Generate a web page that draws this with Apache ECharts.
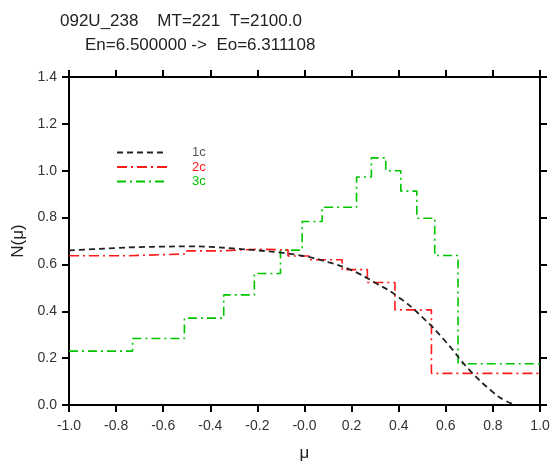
<!DOCTYPE html>
<html>
<head>
<meta charset="utf-8">
<script src="https://cdn.jsdelivr.net/npm/echarts@6/dist/echarts.min.js"></script>
<style>
  html, body { margin: 0; padding: 0; background: #fff; }
  #chart { width: 553px; height: 467px; }
</style>
</head>
<body>
<div id="chart"></div>
<script>
// 1c: smooth curve
const mu1c = [-1.0, -0.9, -0.8, -0.7, -0.6, -0.5, -0.4, -0.3, -0.2, -0.1, 0.0, 0.1, 0.2, 0.3, 0.4, 0.5, 0.6, 0.7, 0.8, 0.85, 0.9]
const n1c = [0.660, 0.665, 0.670, 0.674, 0.676, 0.677, 0.675, 0.668, 0.660, 0.650, 0.635, 0.610, 0.575, 0.522, 0.460, 0.375, 0.270, 0.150, 0.055, 0.020, 0.0]

// 2c: histogram, bin left edges and values (last edge closes the range)
const edges2c = [-1.0, -0.75, -0.5, -0.35, -0.2, -0.07, 0.02, 0.16, 0.267, 0.384, 0.539, 1.0]
const n2c = [0.637, 0.645, 0.658, 0.665, 0.662, 0.636, 0.620, 0.578, 0.523, 0.406, 0.135]

// 3c: histogram
const edges3c = [-1.0, -0.73, -0.51, -0.343, -0.213, -0.102, -0.01, 0.075, 0.221, 0.284, 0.345, 0.409, 0.477, 0.553, 0.652, 1.0]
const n3c = [0.230, 0.284, 0.371, 0.470, 0.561, 0.661, 0.783, 0.844, 0.973, 1.055, 1.000, 0.913, 0.797, 0.638, 0.176]

const titleLine1 = '092U_238    MT=221  T=2100.0'
const titleLine2 = 'En=6.500000 ->  Eo=6.311108'

const FONT = 'Liberation Sans, Arial, sans-serif'
const C1 = '#222'
const C2 = '#ff1a1a'
const C3 = '#00c400'

// build step points: each bin value at its left edge, plus a closing point
const stepData = (edges, vals) => {
  const pts = vals.map((v, i) => [edges[i], v])
  pts.push([edges[edges.length - 1], vals[vals.length - 1]])
  return pts
}

const chart = echarts.init(document.getElementById('chart'), null, { renderer: 'canvas' })

const axisCommon = {
  type: 'value',
  interval: 0.2,
  axisLine: { show: true, onZero: false, lineStyle: { color: '#000', width: 2 } },
  axisTick: { show: true, inside: false, length: 7, lineStyle: { color: '#000', width: 2 } },
  splitLine: { show: false }
}

const option = {
  animation: false,
  title: [
    { text: titleLine1, left: 55, top: 8, textStyle: { fontFamily: FONT, fontSize: 17, fontWeight: 'normal', color: '#222' } },
    { text: titleLine2, left: 80, top: 32, textStyle: { fontFamily: FONT, fontSize: 17, fontWeight: 'normal', color: '#222' } }
  ],
  legend: {
    orient: 'vertical',
    left: 111,
    top: 141,
    itemWidth: 50,
    itemHeight: 8,
    itemGap: 1.5,
    itemStyle: { opacity: 0 },
    data: [
      { name: '1c', textStyle: { color: '#555' } },
      { name: '2c', textStyle: { color: C2 } },
      { name: '3c', textStyle: { color: C3 } }
    ],
    textStyle: { fontFamily: FONT, fontSize: 13, lineHeight: 13, padding: [0, 0, 0, 20] }
  },
  grid: { left: 69, right: 13, top: 77, bottom: 58 },
  xAxis: [
    {
      ...axisCommon,
      min: -1,
      max: 1,
      position: 'bottom',
      name: 'μ',
      nameLocation: 'middle',
      nameGap: 40,
      nameTextStyle: { fontFamily: FONT, fontSize: 17, color: '#222' },
      axisLabel: {
        margin: 14,
        fontFamily: FONT,
        fontSize: 14,
        color: '#333',
        formatter: v => (Math.abs(v) < 1e-9 ? '-0.0' : v.toFixed(1))
      }
    },
    {
      ...axisCommon,
      min: -1,
      max: 1,
      position: 'top',
      axisLabel: { show: false }
    }
  ],
  yAxis: [
    {
      ...axisCommon,
      min: 0,
      max: 1.4,
      position: 'left',
      name: 'N(μ)',
      nameLocation: 'middle',
      nameGap: 41,
      nameTextStyle: { fontFamily: FONT, fontSize: 17, color: '#222' },
      axisLabel: {
        margin: 12,
        fontFamily: FONT,
        fontSize: 14,
        color: '#333',
        formatter: v => v.toFixed(1)
      }
    },
    {
      ...axisCommon,
      min: 0,
      max: 1.4,
      position: 'right',
      axisLabel: { show: false }
    }
  ],
  series: [
    {
      name: '1c',
      type: 'line',
      smooth: true,
      symbol: 'none',
      data: mu1c.map((m, i) => [m, n1c[i]]),
      itemStyle: { color: C1 },
      lineStyle: { color: C1, width: 1.8, type: [6, 4] },
      z: 3
    },
    {
      name: '2c',
      type: 'line',
      step: 'end',
      symbol: 'none',
      data: stepData(edges2c, n2c),
      itemStyle: { color: C2 },
      lineStyle: { color: C2, width: 1.6, type: [10, 4, 2, 4] },
      z: 2
    },
    {
      name: '3c',
      type: 'line',
      step: 'end',
      symbol: 'none',
      data: stepData(edges3c, n3c),
      itemStyle: { color: C3 },
      lineStyle: { color: C3, width: 1.6, type: [9, 4, 2, 4] },
      z: 1
    }
  ]
}

chart.setOption(option)
</script>
</body>
</html>
